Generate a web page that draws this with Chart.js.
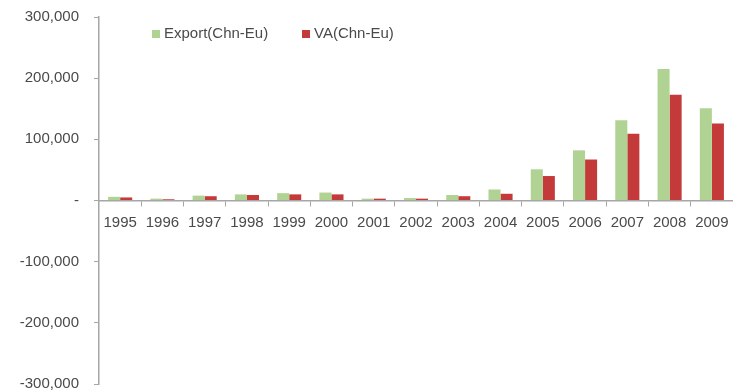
<!DOCTYPE html>
<html>
<head>
<meta charset="utf-8">
<script src="https://cdn.jsdelivr.net/npm/chart.js@4.4.0/dist/chart.umd.min.js"></script>
<style>
    html, body { margin: 0; padding: 0; background: #fff; }
    #wrap { width: 733px; height: 390px; position: relative; }
    #chart { filter: blur(0.6px); }
</style>
</head>
<body>
<div id="wrap"><canvas id="chart" width="733" height="390"></canvas></div>
<script>
const years = ['1995', '1996', '1997', '1998', '1999', '2000', '2001', '2002',
    '2003', '2004', '2005', '2006', '2007', '2008', '2009'];
const exportChnEu = [6000, 3000, 8000, 10000, 12000, 13000, 3000, 4000,
    9000, 18000, 51000, 82000, 131000, 215000, 151000];
const vaChnEu = [5000, 2000, 7000, 9000, 10000, 10000, 3000, 3000,
    7000, 11000, 40000, 67000, 109000, 173000, 126000];
const seriesNames = ['Export(Chn-Eu)', 'VA(Chn-Eu)'];
const yTicks = [-300000, -200000, -100000, 0, 100000, 200000, 300000];

const textColor = '#4a4a4a';
const axisColor = '#a6a6a6';
const font = { family: 'Liberation Sans', size: 15 };

// small legend drawn inside the plot, left of centre
const innerLegend = {
    id: 'innerLegend',
    afterDraw(chart) {
        const ctx = chart.ctx;
        const items = [{ x: 152 }, { x: 302 }];
        ctx.save();
        ctx.font = font.size + 'px ' + font.family;
        ctx.textBaseline = 'middle';
        chart.data.datasets.forEach((ds, i) => {
            const x = items[i].x;
            ctx.fillStyle = ds.backgroundColor;
            ctx.fillRect(x, 30, 8, 8);
            ctx.fillStyle = textColor;
            ctx.fillText(ds.label, x + 12, 34);
        });
        ctx.restore();
    }
};

// the axes sit inside the plot, so they should not eat into its size
function noScalePadding(scale) {
    scale.paddingTop = 0;
    scale.paddingBottom = 0;
    scale.paddingLeft = 0;
    scale.paddingRight = 0;
}

const ctx = document.getElementById('chart').getContext('2d');

const data = {
    labels: years,
    datasets: [
        {
            label: seriesNames[0],
            data: exportChnEu,
            backgroundColor: '#b0d393',
            categoryPercentage: 0.57,
            barPercentage: 1.0
        },
        {
            label: seriesNames[1],
            data: vaChnEu,
            backgroundColor: '#c43a3a',
            categoryPercentage: 0.57,
            barPercentage: 1.0
        }
    ]
};

const config = {
    type: 'bar',
    data: data,
    options: {
        responsive: false,
        animation: false,
        layout: {
            padding: { top: 17, bottom: 6, left: 0, right: 0 }
        },
        plugins: {
            legend: { display: false },
            tooltip: { enabled: false }
        },
        scales: {
            x: {
                position: { y: 0 },
                afterFit(scale) {
                    scale.height = 0;
                    noScalePadding(scale);
                },
                grid: {
                    drawOnChartArea: false,
                    drawTicks: true,
                    tickLength: 5,
                    color: axisColor
                },
                border: { color: axisColor, width: 1.5 },
                ticks: {
                    color: textColor,
                    font: font,
                    padding: 8,
                    maxRotation: 0,
                    autoSkip: false
                }
            },
            y: {
                min: -300000,
                max: 300000,
                afterFit(scale) {
                    scale.width = 99;
                    noScalePadding(scale);
                },
                afterBuildTicks(scale) {
                    scale.ticks = yTicks.map(v => ({ value: v }));
                },
                grid: {
                    drawOnChartArea: false,
                    drawTicks: true,
                    tickLength: 5,
                    color: axisColor
                },
                border: { color: axisColor, width: 1.5 },
                ticks: {
                    color: textColor,
                    font: font,
                    padding: 15,
                    callback: v => v === 0 ? '-' : v.toLocaleString('en-US')
                }
            }
        }
    },
    plugins: [innerLegend]
};

const myChart = new Chart(ctx, config);
</script>
</body>
</html>
